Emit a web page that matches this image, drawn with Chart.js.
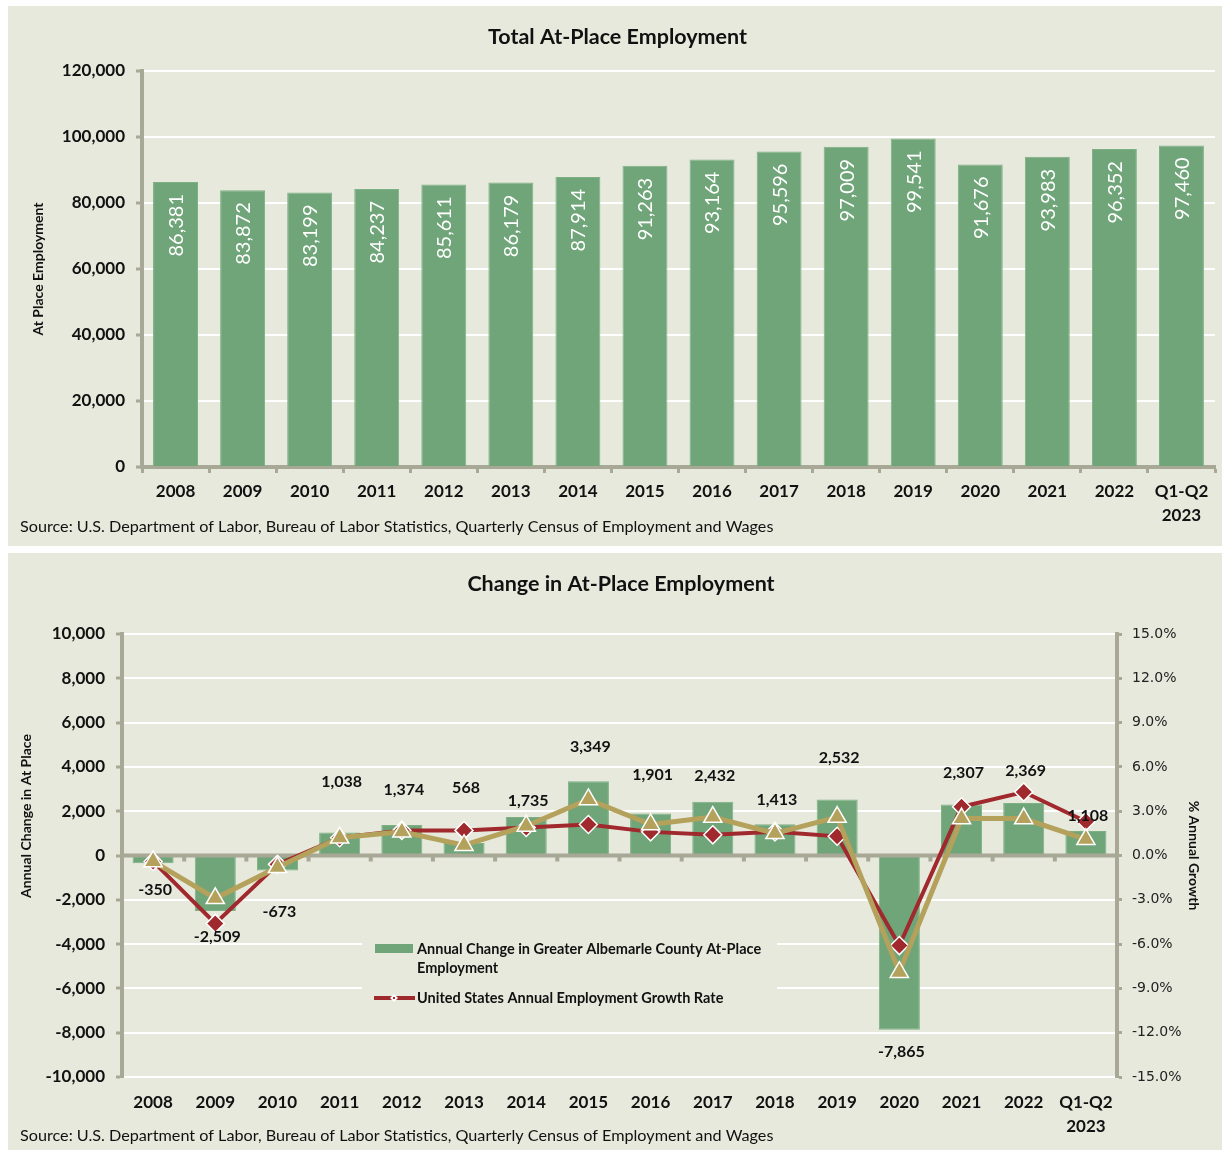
<!DOCTYPE html>
<html>
<head>
<meta charset="utf-8">
<script src="https://cdn.jsdelivr.net/npm/chart.js@4.4.0/dist/chart.umd.min.js"></script>
<style>
  body { margin: 0; background: #fff; }
  .panel { position: absolute; left: 8px; width: 1214px; background: #E8E9DD; }
  #p1 { top: 6px; height: 540px; }
  #p2 { top: 553px; height: 597px; }
</style>
</head>
<body>
<div class="panel" id="p1"><canvas id="c1" width="1214" height="540"></canvas></div>
<div class="panel" id="p2"><canvas id="c2" width="1214" height="597"></canvas></div>
<script>
const years = ['2008', '2009', '2010', '2011', '2012', '2013', '2014', '2015', '2016',
  '2017', '2018', '2019', '2020', '2021', '2022', ['Q1-Q2', '2023']];
const totalEmployment = [86381, 83872, 83199, 84237, 85611, 86179, 87914, 91263,
  93164, 95596, 97009, 99541, 91676, 93983, 96352, 97460];
const annualChange = [-350, -2509, -673, 1038, 1374, 568, 1735, 3349,
  1901, 2432, 1413, 2532, -7865, 2307, 2369, 1108];
const localGrowthPct = [-0.4, -2.9, -0.8, 1.2, 1.6, 0.7, 2.0, 3.8,
  2.1, 2.6, 1.5, 2.6, -7.9, 2.5, 2.5, 1.1];
const usGrowthPct = [-0.4, -4.6, -0.6, 1.2, 1.7, 1.7, 1.9, 2.1,
  1.6, 1.4, 1.6, 1.3, -6.1, 3.3, 4.3, 2.3];

const BG = '#E8E9DD';
const GREEN = '#6FA578';
const RED = '#A0292D';
const GOLD = '#B4A15B';
const AXIS = '#A8A896';
const SOURCE = 'Source: U.S. Department of Labor, Bureau of Labor Statistics, Quarterly Census of Employment and Wages';

Chart.defaults.font.family = 'Lato';
Chart.defaults.color = '#111';

const fmt = v => Number(v).toLocaleString('en-US');

// source line under each chart (shares its band with the 2nd line of x labels)
const sourceNote = {
  id: 'sourceNote',
  afterDraw(chart, args, opts) {
    const { ctx } = chart;
    ctx.save();
    ctx.fillStyle = '#111';
    ctx.font = '16.2px Lato';
    ctx.textBaseline = 'middle';
    ctx.fillText(opts.text, 12, opts.y);
    ctx.restore();
  }
};

// white rotated values inside the bars
const insideLabels = {
  id: 'insideLabels',
  afterDatasetsDraw(chart) {
    const { ctx } = chart;
    const vals = chart.data.datasets[0].data;
    ctx.save();
    ctx.fillStyle = '#fff';
    ctx.font = '20px Lato';
    ctx.textAlign = 'right';
    ctx.textBaseline = 'middle';
    chart.getDatasetMeta(0).data.forEach((bar, i) => {
      ctx.save();
      ctx.translate(bar.x + 1, bar.y + 12);
      ctx.rotate(-Math.PI / 2);
      ctx.fillText(fmt(vals[i]), 0, 0);
      ctx.restore();
    });
    ctx.restore();
  }
};

// zero line, value labels, left title and the boxed legend of the lower chart
const changeExtras = {
  id: 'changeExtras',
  beforeDatasetsDraw(chart, args, opts) {
    const { ctx } = chart;
    const L = opts.legend;
    ctx.save();
    ctx.fillStyle = BG;
    ctx.fillRect(L.x - 13, L.y - 10, 415, 82);
    const bars = chart.data.datasets[0];
    const us = chart.data.datasets[1];
    ctx.fillStyle = bars.backgroundColor;
    ctx.fillRect(L.x, L.y, 38, 9);
    ctx.fillStyle = '#111';
    ctx.font = 'bold 14.5px Lato';
    ctx.textBaseline = 'middle';
    // wrap the bar label onto two lines
    const words = bars.label.split(' ');
    let line = '', lines = [];
    words.forEach(w => {
      const t = line ? line + ' ' + w : w;
      if (ctx.measureText(t).width > 355 && line) { lines.push(line); line = w; } else line = t;
    });
    lines.push(line);
    lines.forEach((t, i) => ctx.fillText(t, L.x + 42, L.y + 5 + i * 19));
    const ly = L.y + 54;
    ctx.strokeStyle = us.borderColor;
    ctx.lineWidth = 4;
    ctx.beginPath();
    ctx.moveTo(L.x - 1, ly);
    ctx.lineTo(L.x + 40, ly);
    ctx.stroke();
    ctx.fillStyle = '#fff';
    ctx.beginPath();
    ctx.moveTo(L.x + 19, ly - 4); ctx.lineTo(L.x + 23, ly); ctx.lineTo(L.x + 19, ly + 4); ctx.lineTo(L.x + 15, ly);
    ctx.fill();
    ctx.fillStyle = us.borderColor;
    ctx.fillRect(L.x + 18, ly - 1, 2, 2);
    ctx.fillStyle = '#111';
    ctx.fillText(us.label, L.x + 42, ly);
    // left axis title, set above centre as in the source
    ctx.font = 'bold 14px Lato';
    ctx.textAlign = 'center';
    ctx.translate(opts.leftTitle.x, opts.leftTitle.y);
    ctx.rotate(-Math.PI / 2);
    ctx.fillText(opts.leftTitle.text, 0, 0);
    ctx.restore();
  },
  afterDatasetDraw(chart, args) {
    if (args.index !== 0) return;
    const { ctx, chartArea } = chart;
    const y0 = chart.scales.y.getPixelForValue(0);
    ctx.save();
    ctx.fillStyle = AXIS;
    ctx.fillRect(chartArea.left, y0 - 2, chartArea.right - chartArea.left, 4);
    const n = chart.data.labels.length;
    const w = (chartArea.right - chartArea.left) / n;
    for (let k = 1; k < n; k++) {
      ctx.fillRect(chartArea.left + k * w - 2, y0, 4, 6);
    }
    ctx.restore();
  },
  afterDatasetsDraw(chart, args, opts) {
    const { ctx } = chart;
    const vals = chart.data.datasets[0].data;
    ctx.save();
    ctx.fillStyle = '#111';
    ctx.font = 'bold 16px Lato';
    ctx.textAlign = 'center';
    ctx.textBaseline = 'middle';
    chart.getDatasetMeta(0).data.forEach((bar, i) => {
      ctx.fillText(fmt(vals[i]), bar.x + 2, bar.y + opts.offsets[i]);
    });
    ctx.restore();
  }
};

const tickFont = { family: 'Lato', size: 17, weight: 'bold' };
const xTickFont = { family: 'Lato', size: 17, weight: 'bold', lineHeight: 1.45 };
const titleFont = { family: 'Lato', size: 21.5, weight: 'bold' };

new Chart(document.getElementById('c1'), {
  type: 'bar',
  data: {
    labels: years,
    datasets: [{
      label: 'Total At-Place Employment',
      data: totalEmployment,
      backgroundColor: GREEN,
      borderColor: '#7DB184',
      borderWidth: 1,
      categoryPercentage: 1,
      barPercentage: 0.67
    }]
  },
  options: {
    responsive: false,
    devicePixelRatio: 1,
    animation: false,
    layout: { padding: { left: 12, right: 7, top: 0, bottom: 0 } },
    plugins: {
      legend: { display: false },
      tooltip: { enabled: false },
      title: {
        display: true,
        text: 'Total At-Place Employment',
        font: titleFont,
        color: '#111',
        padding: { top: 18, bottom: 21.2 }
      },
      sourceNote: { text: SOURCE, y: 521 }
    },
    scales: {
      x: {
        grid: { display: true, drawOnChartArea: false, tickLength: 6, tickColor: AXIS, tickWidth: 3 },
        border: { color: AXIS, width: 4 },
        ticks: { font: xTickFont, color: '#111', padding: 6, maxRotation: 0 },
        afterFit(s) { s.height = 79; }
      },
      y: {
        min: 0,
        max: 120000,
        ticks: { stepSize: 20000, font: tickFont, color: '#111', padding: 11, callback: v => fmt(v) },
        grid: { color: '#fff', lineWidth: 2, tickLength: 6, tickColor: AXIS, tickWidth: 3 },
        border: { color: AXIS, width: 4 },
        title: {
          display: true,
          text: 'At Place Employment',
          font: { family: 'Lato', size: 14, weight: 'bold' },
          color: '#111',
          padding: { top: 10, bottom: 0 }
        },
        afterFit(s) { s.width = 122; }
      }
    }
  },
  plugins: [insideLabels, sourceNote]
});

new Chart(document.getElementById('c2'), {
  type: 'bar',
  data: {
    labels: years,
    datasets: [{
      type: 'bar',
      label: 'Annual Change in Greater Albemarle County At-Place Employment',
      data: annualChange,
      backgroundColor: GREEN,
      borderColor: '#7DB184',
      borderWidth: 1,
      categoryPercentage: 1,
      barPercentage: 0.66,
      yAxisID: 'y',
      order: 3
    }, {
      type: 'line',
      label: 'United States Annual Employment Growth Rate',
      data: usGrowthPct,
      borderColor: RED,
      backgroundColor: RED,
      borderWidth: 4,
      tension: 0,
      pointStyle: 'rectRot',
      pointRadius: 9,
      pointBackgroundColor: RED,
      pointBorderColor: '#fff',
      pointBorderWidth: 1.5,
      yAxisID: 'y1',
      order: 2
    }, {
      type: 'line',
      label: 'Greater Albemarle County Annual Employment Growth Rate',
      data: localGrowthPct,
      borderColor: GOLD,
      backgroundColor: GOLD,
      borderWidth: 5,
      tension: 0,
      pointStyle: 'triangle',
      pointRadius: 10.5,
      pointBackgroundColor: GOLD,
      pointBorderColor: '#fff',
      pointBorderWidth: 1.5,
      yAxisID: 'y1',
      order: 1
    }]
  },
  options: {
    responsive: false,
    devicePixelRatio: 1,
    animation: false,
    layout: { padding: { left: 12, right: 0, top: 0, bottom: 0 } },
    plugins: {
      legend: { display: false },
      tooltip: { enabled: false },
      title: {
        display: true,
        text: 'Change in At-Place Employment',
        font: titleFont,
        color: '#111',
        padding: { top: 18, bottom: 37.2 }
      },
      sourceNote: { text: SOURCE, y: 583 },
      changeExtras: {
        legend: { x: 367, y: 391 },
        leftTitle: { text: 'Annual Change in At Place', x: 18, y: 263 },
        offsets: [27, 26, 41, -51, -35, -55, -16, -34, -39, -26, -24, -42, 22, -32, -32, -15]
      }
    },
    scales: {
      x: {
        grid: { display: false },
        border: { display: false },
        ticks: { font: xTickFont, color: '#111', padding: 5, maxRotation: 0 },
        afterFit(s) { s.height = 73; }
      },
      y: {
        position: 'left',
        min: -10000,
        max: 10000,
        ticks: { stepSize: 2000, font: tickFont, color: '#111', padding: 11, callback: v => fmt(v) },
        grid: {
          color: c => (c.tick && c.tick.value === 0 ? AXIS : '#fff'),
          lineWidth: 2,
          tickLength: 6,
          tickColor: AXIS,
          tickWidth: 3
        },
        border: { color: AXIS, width: 4 },
        afterFit(s) { s.width = 102; }
      },
      y1: {
        position: 'right',
        min: -15,
        max: 15,
        ticks: {
          stepSize: 3,
          font: { family: 'DejaVu Sans', size: 14 },
          color: '#222',
          padding: 10,
          callback: v => v.toFixed(1) + '%'
        },
        grid: { drawOnChartArea: false, tickLength: 5, tickColor: AXIS, tickWidth: 3 },
        border: { color: AXIS, width: 4 },
        title: {
          display: true,
          text: '% Annual Growth',
          font: { family: 'Lato', size: 14, weight: 'bold' },
          color: '#111',
          padding: { top: 20, bottom: 0 }
        },
        afterFit(s) { s.width = 105; }
      }
    }
  },
  plugins: [changeExtras, sourceNote]
});
</script>
</body>
</html>
